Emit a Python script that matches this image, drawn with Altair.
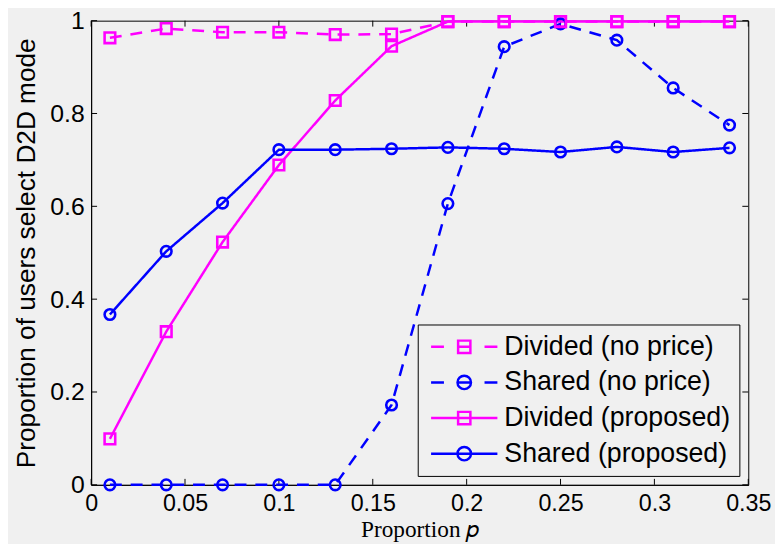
import altair as alt
import pandas as pd

p_values = [0.01, 0.04, 0.07, 0.10, 0.13, 0.16, 0.19, 0.22, 0.25, 0.28, 0.31, 0.34]
divided_no_price = [0.963, 0.983, 0.975, 0.975, 0.970, 0.971, 0.998, 0.998, 0.998, 0.998, 0.998, 0.998]
shared_no_price = [0.0, 0.0, 0.0, 0.0, 0.0, 0.172, 0.606, 0.944, 0.993, 0.958, 0.855, 0.775]
divided_proposed = [0.099, 0.330, 0.523, 0.689, 0.828, 0.945, 0.998, 0.998, 0.998, 0.998, 0.998, 0.998]
shared_proposed = [0.367, 0.503, 0.607, 0.722, 0.722, 0.724, 0.727, 0.724, 0.717, 0.728, 0.717, 0.726]

series_names = ["Divided (no price)", "Shared (no price)", "Divided (proposed)", "Shared (proposed)"]
series_values = [divided_no_price, shared_no_price, divided_proposed, shared_proposed]
series_colors = ["#ff00ff", "#0000ff", "#ff00ff", "#0000ff"]
series_shapes = ["square", "circle", "square", "circle"]
series_dash = [[12, 9], [12, 9], [1, 0], [1, 0]]

x_ticks = [0, 0.05, 0.1, 0.15, 0.2, 0.25, 0.3, 0.35]
y_ticks = [0, 0.2, 0.4, 0.6, 0.8, 1.0]

rows = []
for order, (name, vals) in enumerate(zip(series_names, series_values)):
    for x, y in zip(p_values, vals):
        rows.append({"p": x, "v": y, "series": name, "order": order})
df = pd.DataFrame(rows)

W, H = 664, 469
BG = "#f0f0f0"

# custom legend symbols: line + marker
sq = "M-0.62,-0.62H0.62V0.62H-0.62Z"
ci = "M-0.68,0 A0.68,0.68 0 1 0 0.68,0 A0.68,0.68 0 1 0 -0.68,0 Z"
dash_line = "M-3.35,0H-2.05M2.05,0H3.35M-0.62,0H0.62"
solid_line = "M-3.35,0H3.35"
legend_shapes = [dash_line + sq, dash_line + ci, solid_line + sq, solid_line + ci]

xscale = alt.Scale(domain=[0, 0.35], nice=False, zero=False)
yscale = alt.Scale(domain=[0, 1], nice=False)

x_axis = alt.Axis(values=x_ticks, format="~g", title="Proportion 𝑝", grid=False,
                  ticks=False, labelFontSize=23.5, labelFont="Liberation Sans",
                  labelColor="black", labelPadding=7, domainColor="black",
                  titleFont="Liberation Serif", titleFontSize=23.5, titleFontWeight="normal",
                  titleColor="black", titleY=52, titleBaseline="alphabetic", labelFlush=False)
y_axis = alt.Axis(values=y_ticks, format="~g", title="Proportion of users select D2D mode",
                  grid=False, ticks=False, labelFontSize=25, labelFont="Liberation Sans",
                  labelColor="black", labelPadding=7, domainColor="black",
                  titleFont="Liberation Sans", titleFontSize=26.5, titleFontWeight="normal",
                  titleColor="black", titlePadding=9, labelFlush=False)

base = alt.Chart(df)

lines = base.mark_line(strokeWidth=2.5).encode(
    x=alt.X("p:Q", scale=xscale, axis=x_axis),
    y=alt.Y("v:Q", scale=yscale, axis=y_axis),
    color=alt.Color("series:N", scale=alt.Scale(domain=series_names, range=series_colors), legend=None),
    strokeDash=alt.StrokeDash("series:N", scale=alt.Scale(domain=series_names, range=series_dash), legend=None),
    detail="series:N",
    order="order:Q",
)

points = base.mark_point(filled=False, strokeWidth=2.6, size=115, opacity=1).encode(
    x=alt.X("p:Q", scale=xscale),
    y=alt.Y("v:Q", scale=yscale),
    color=alt.Color("series:N", scale=alt.Scale(domain=series_names, range=series_colors), legend=None),
    shape=alt.Shape("series:N", scale=alt.Scale(domain=series_names, range=series_shapes), legend=None),
)

legend_layer = base.transform_filter("false").mark_point(
    filled=False, strokeWidth=2.5, opacity=1
).encode(
    x=alt.X("p:Q", scale=xscale),
    y=alt.Y("v:Q", scale=yscale),
    color=alt.Color("series:N", scale=alt.Scale(domain=series_names, range=series_colors),
                    sort=series_names,
                    legend=alt.Legend(
                        title=None, orient="none", legendX=330, legendY=307,
                        symbolSize=400, symbolStrokeWidth=2.5, symbolOffset=24.5,
                        labelOffset=27, labelFontSize=27, labelFont="Liberation Sans",
                        labelColor="black", strokeColor="black", fillColor=BG,
                        padding=9, rowPadding=8, labelLimit=400,
                    )),
    shape=alt.Shape("series:N", scale=alt.Scale(domain=series_names, range=legend_shapes),
                    sort=series_names),
)

xt = pd.DataFrame({"t": x_ticks})
yt = pd.DataFrame({"t": y_ticks})
tick_bottom = alt.Chart(xt).mark_rule(color="black", strokeWidth=1).encode(
    x=alt.X("t:Q", scale=xscale), y=alt.value(H), y2=alt.value(H - 6))
tick_top = alt.Chart(xt).mark_rule(color="black", strokeWidth=1).encode(
    x=alt.X("t:Q", scale=xscale), y=alt.value(0), y2=alt.value(6))
tick_left = alt.Chart(yt).mark_rule(color="black", strokeWidth=1).encode(
    y=alt.Y("t:Q", scale=yscale), x=alt.value(0), x2=alt.value(6))
tick_right = alt.Chart(yt).mark_rule(color="black", strokeWidth=1).encode(
    y=alt.Y("t:Q", scale=yscale), x=alt.value(W), x2=alt.value(W - 6))

chart = alt.layer(tick_bottom, tick_top, tick_left, tick_right, lines, points, legend_layer).resolve_scale(
    color="independent", shape="independent", strokeDash="independent"
).properties(
    width=W, height=H,
    background=BG,
    autosize=alt.AutoSizeParams(type="none"),
    padding={"left": 84, "top": 10, "right": 27, "bottom": 57},
).configure_view(stroke="black", strokeWidth=1)

chart.save("out.html", embed_options={"renderer": "svg", "actions": False})
